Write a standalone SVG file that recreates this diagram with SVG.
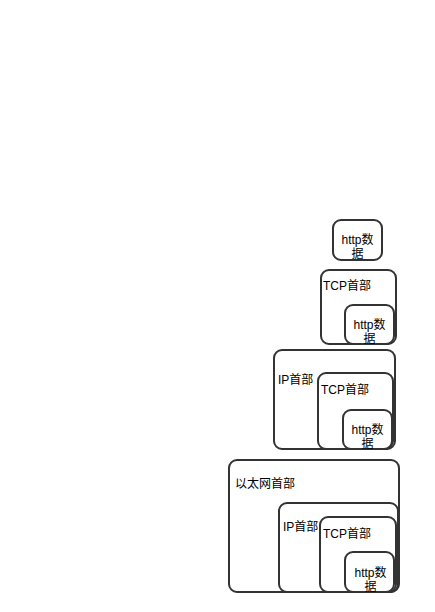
<svg xmlns="http://www.w3.org/2000/svg" width="435" height="612" viewBox="0 0 435 612">
<style>
.b{fill:#fff;stroke:#333;stroke-width:2}
.t{font-family:"Liberation Sans","Noto Sans CJK SC",sans-serif;font-size:12px;fill:#000}
.c{text-anchor:middle}
</style>
<rect width="435" height="612" fill="#fff"/>
<g id="g1">
<g id="http1"><rect class="b" x="333" y="220" width="49" height="40" rx="8"/><text class="t c" x="357.5" y="244">http数</text><text class="t c" x="357.5" y="258">据</text></g>
</g>
<g id="g2">
<g id="tcp2"><rect class="b" x="321" y="270" width="75" height="74" rx="8"/><text class="t" x="323" y="290">TCP首部</text></g>
<g id="http2"><rect class="b" x="345" y="305" width="49" height="39" rx="8"/><text class="t c" x="369.5" y="329">http数</text><text class="t c" x="369.5" y="343">据</text></g>
</g>
<g id="g3">
<g id="ip3"><rect class="b" x="274" y="350" width="121" height="99" rx="8"/><text class="t" x="278" y="384">IP首部</text></g>
<g id="tcp3"><rect class="b" x="318" y="373" width="75" height="76" rx="8"/><text class="t" x="321" y="394">TCP首部</text></g>
<g id="http3"><rect class="b" x="343" y="410" width="49" height="39" rx="8"/><text class="t c" x="367.5" y="434">http数</text><text class="t c" x="367.5" y="448">据</text></g>
</g>
<g id="g4">
<g id="eth4"><rect class="b" x="229" y="460" width="170" height="132" rx="8"/><text class="t" x="235" y="488">以太网首部</text></g>
<g id="ip4"><rect class="b" x="279" y="503" width="119" height="89" rx="8"/><text class="t" x="283" y="531">IP首部</text></g>
<g id="tcp4"><rect class="b" x="320" y="517" width="76" height="75" rx="8"/><text class="t" x="323" y="538">TCP首部</text></g>
<g id="http4"><rect class="b" x="345" y="552" width="49" height="40" rx="8"/><text class="t c" x="370.5" y="577">http数</text><text class="t c" x="370.5" y="591">据</text></g>
</g>
<g id="connectors"/>
</svg>
